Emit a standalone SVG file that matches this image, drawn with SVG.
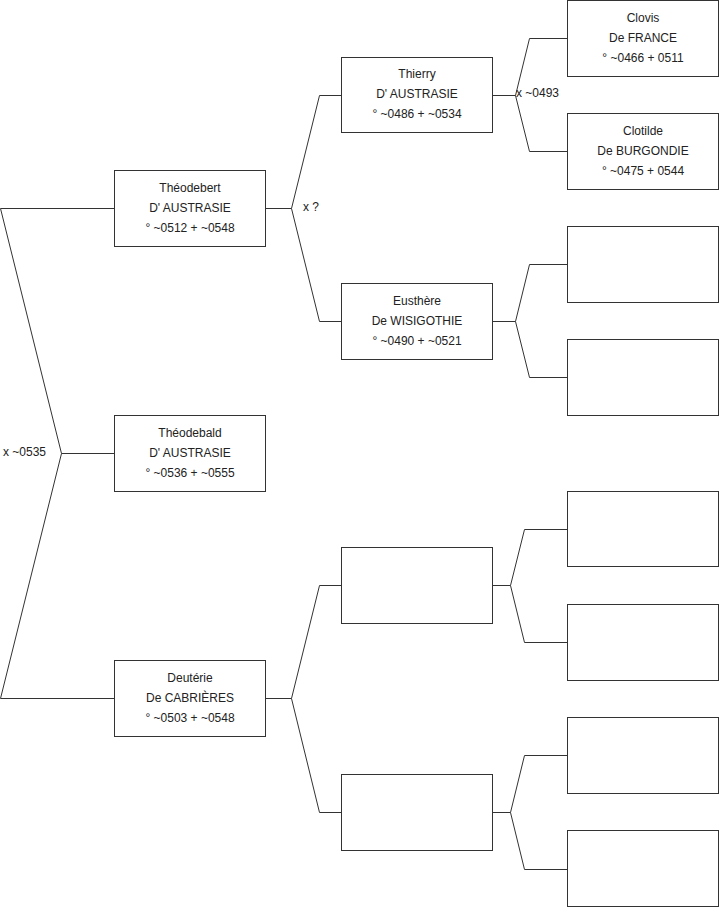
<svg xmlns="http://www.w3.org/2000/svg" width="719" height="908" viewBox="0 0 719 908">
<style>
.box{fill:#fff;stroke:#333;stroke-width:1}
.ln{fill:none;stroke:#333;stroke-width:1}
text{font-family:"Liberation Sans",Arial,sans-serif;font-size:12px;fill:#222}
.c{text-anchor:middle}
</style>
<rect width="719" height="908" fill="#fff"/>
<g id="connectors">
<polyline class="ln" points="114,208.5 0.5,208.5 61.5,453.5 0.5,698.5 114,698.5"/>
<line class="ln" x1="61.5" y1="453.5" x2="114" y2="453.5"/>
<polyline class="ln" points="341,95.5 319.5,95.5 291.5,208.5 319.5,321.5 341,321.5"/>
<line class="ln" x1="265.5" y1="208.5" x2="291.5" y2="208.5"/>
<polyline class="ln" points="341,585.5 319.5,585.5 291.5,698.5 319.5,812.5 341,812.5"/>
<line class="ln" x1="265.5" y1="698.5" x2="291.5" y2="698.5"/>
<polyline class="ln" points="567,38.5 529.5,38.5 515.5,95.5 529.5,151.5 567,151.5"/>
<line class="ln" x1="492.5" y1="95.5" x2="515.5" y2="95.5"/>
<polyline class="ln" points="567,264.5 529.5,264.5 515.5,321.5 529.5,377.5 567,377.5"/>
<line class="ln" x1="492.5" y1="321.5" x2="515.5" y2="321.5"/>
<polyline class="ln" points="567,529.5 524.5,529.5 510.5,585.5 524.5,642.5 567,642.5"/>
<line class="ln" x1="492.5" y1="585.5" x2="510.5" y2="585.5"/>
<polyline class="ln" points="567,755.5 524.5,755.5 510.5,812.5 524.5,869.5 567,869.5"/>
<line class="ln" x1="492.5" y1="812.5" x2="510.5" y2="812.5"/>
</g>
<g id="labels">
<text x="3" y="456">x ~0535</text>
<text x="303" y="211">x ?</text>
<text x="516" y="97">x ~0493</text>
</g>
<g id="theodebert">
<rect class="box" x="114.5" y="170.5" width="151" height="76"/>
<text class="c" x="190" y="191.5">Théodebert</text>
<text class="c" x="190" y="211.5">D' AUSTRASIE</text>
<text class="c" x="190" y="231.5">° ~0512 + ~0548</text>
</g>
<g id="theodebald">
<rect class="box" x="114.5" y="415.5" width="151" height="76"/>
<text class="c" x="190" y="436.5">Théodebald</text>
<text class="c" x="190" y="456.5">D' AUSTRASIE</text>
<text class="c" x="190" y="476.5">° ~0536 + ~0555</text>
</g>
<g id="deuterie">
<rect class="box" x="114.5" y="660.5" width="151" height="76"/>
<text class="c" x="190" y="681.5">Deutérie</text>
<text class="c" x="190" y="701.5">De CABRIÈRES</text>
<text class="c" x="190" y="721.5">° ~0503 + ~0548</text>
</g>
<g id="thierry">
<rect class="box" x="341.5" y="57.5" width="151" height="75"/>
<text class="c" x="417" y="78">Thierry</text>
<text class="c" x="417" y="98">D' AUSTRASIE</text>
<text class="c" x="417" y="118">° ~0486 + ~0534</text>
</g>
<g id="eusthere">
<rect class="box" x="341.5" y="283.5" width="151" height="76"/>
<text class="c" x="417" y="304.5">Eusthère</text>
<text class="c" x="417" y="324.5">De WISIGOTHIE</text>
<text class="c" x="417" y="344.5">° ~0490 + ~0521</text>
</g>
<g id="empty-m1"><rect class="box" x="341.5" y="547.5" width="151" height="76"/></g>
<g id="empty-m2"><rect class="box" x="341.5" y="774.5" width="151" height="76"/></g>
<g id="clovis">
<rect class="box" x="567.5" y="0.5" width="151" height="76"/>
<text class="c" x="643" y="21.5">Clovis</text>
<text class="c" x="643" y="41.5">De FRANCE</text>
<text class="c" x="643" y="61.5">° ~0466 + 0511</text>
</g>
<g id="clotilde">
<rect class="box" x="567.5" y="113.5" width="151" height="76"/>
<text class="c" x="643" y="134.5">Clotilde</text>
<text class="c" x="643" y="154.5">De BURGONDIE</text>
<text class="c" x="643" y="174.5">° ~0475 + 0544</text>
</g>
<g id="empty-r3"><rect class="box" x="567.5" y="226.5" width="151" height="76"/></g>
<g id="empty-r4"><rect class="box" x="567.5" y="339.5" width="151" height="76"/></g>
<g id="empty-r5"><rect class="box" x="567.5" y="491.5" width="151" height="75"/></g>
<g id="empty-r6"><rect class="box" x="567.5" y="604.5" width="151" height="76"/></g>
<g id="empty-r7"><rect class="box" x="567.5" y="717.5" width="151" height="76"/></g>
<g id="empty-r8"><rect class="box" x="567.5" y="830.5" width="151" height="76"/></g>
</svg>
